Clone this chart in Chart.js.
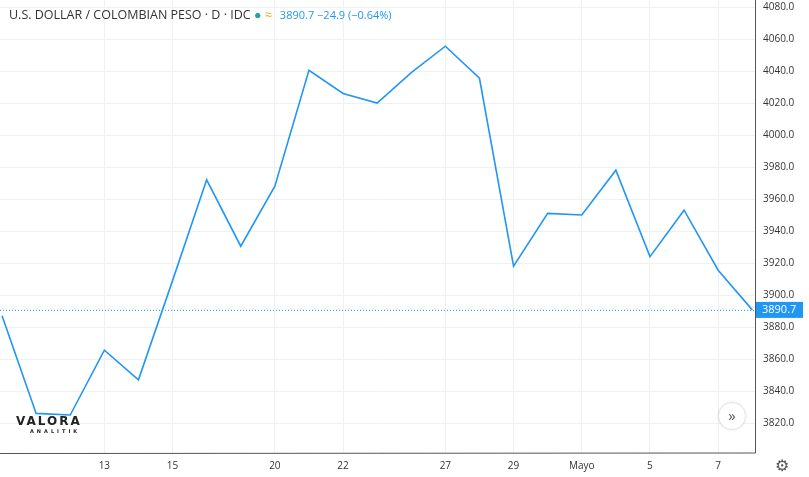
<!DOCTYPE html>
<html><head><meta charset="utf-8">
<script src="https://cdn.jsdelivr.net/npm/chart.js@4/dist/chart.umd.min.js"></script>
<style>
body{margin:0;background:#fff;font-family:"Open Sans",sans-serif}
#wrap{position:relative;width:809px;height:477px}
#title{position:absolute;left:9px;top:6px;font-size:12.5px;color:#333}
#title .q{color:#2196f3;font-size:11px;margin-left:8px}
#logo{position:absolute;left:16px;top:414px;font:bold 12px "DejaVu Sans";letter-spacing:2px;color:#222}
#logo small{display:block;font-size:5px;letter-spacing:3px;margin-left:14px}
#btn{position:absolute;left:719px;top:403px;width:26px;height:26px;border-radius:13px;background:#fff;box-shadow:0 0 3px #bbb;text-align:center;line-height:24px;font-size:15px;color:#555}
#gear{position:absolute;left:775px;top:454px;font-size:16px;color:#555}
</style></head><body>
<div id="wrap">
<canvas id="c" width="809" height="477"></canvas>
<div id="title">U.S. DOLLAR / COLOMBIAN PESO · D · IDC <span style="color:#26a69a">●</span> <span style="color:#f7a21b">≈</span><span class="q">3890.7 −24.9 (−0.64%)</span></div>
<div id="logo">VALORA<small>ANALITIK</small></div>
<div id="btn">»</div>
<div id="gear">⚙</div>
</div>
<script>
/* DATA */
const prices=[3887,3826,3825,3865.5,3847,3909,3972,3930.5,3968,4040.5,4026,4020,4039,4055.5,4035.5,3918,3951,3950,3978,3924,3953,3915.5,3890.7];
const tickIdx=[3,5,8,10,13,15,17,19,21];
const tickText=["13","15","20","22","27","29","Mayo","5","7"];
const lastPrice=3890.7;
const yTicks=[];for(let v=3820;v<=4080;v+=20)yTicks.push(v);

/* LAST PRICE LINE */
const lastLine={id:"last",afterDatasetsDraw(ch){
  const {ctx,chartArea:a,scales:{y}}=ch;const py=y.getPixelForValue(lastPrice);
  ctx.save();ctx.strokeStyle="#2196f3";ctx.setLineDash([1,2]);ctx.lineWidth=1;
  ctx.beginPath();ctx.moveTo(a.left,py+0.5);ctx.lineTo(a.right,py+0.5);ctx.stroke();
  ctx.setLineDash([]);ctx.fillStyle="#2196f3";ctx.fillRect(a.right,py-8,48,16);
  ctx.fillStyle="#fff";ctx.font="11px 'Open Sans'";ctx.textBaseline="middle";ctx.fillText("3890.7",a.right+7,py);
  ctx.strokeStyle="#555";ctx.beginPath();ctx.moveTo(a.right+0.5,0);ctx.lineTo(a.right+0.5,a.bottom);ctx.lineTo(0,a.bottom+0.5);ctx.stroke();
  ctx.restore();
}};

new Chart(c,{
  type:"line",
  data:{datasets:[{data:prices.map((p,i)=>({x:i,y:p})),borderColor:"#2196f3",borderWidth:1.6,pointRadius:0,tension:0}]},
  options:{
    responsive:false,animation:false,
    layout:{padding:0},
    plugins:{legend:{display:false},tooltip:{enabled:false}},
    scales:{
      x:{type:"linear",min:-0.06,max:22.08,
        afterBuildTicks:s=>{s.ticks=tickIdx.map(v=>({value:v}))},
        afterFit:s=>{s.height=24;s.paddingLeft=0;s.paddingRight=0},
        grid:{color:"#edf1f6",drawTicks:false},border:{display:false},
        ticks:{color:"#333",font:{size:10,family:"Open Sans"},padding:7,maxRotation:0,
          callback:v=>tickText[tickIdx.indexOf(v)]}},
      y:{position:"right",min:3801.25,max:4084.4,
        afterBuildTicks:s=>{s.ticks=yTicks.map(v=>({value:v}))},
        afterFit:s=>{s.width=54;s.paddingTop=0;s.paddingBottom=0},
        grid:{color:"#edf1f6",drawTicks:false},border:{display:false},
        ticks:{color:"#333",font:{size:10,family:"Open Sans"},padding:8,callback:v=>v.toFixed(1)}}
    }
  },
  plugins:[lastLine]
});
</script>
</body></html>
